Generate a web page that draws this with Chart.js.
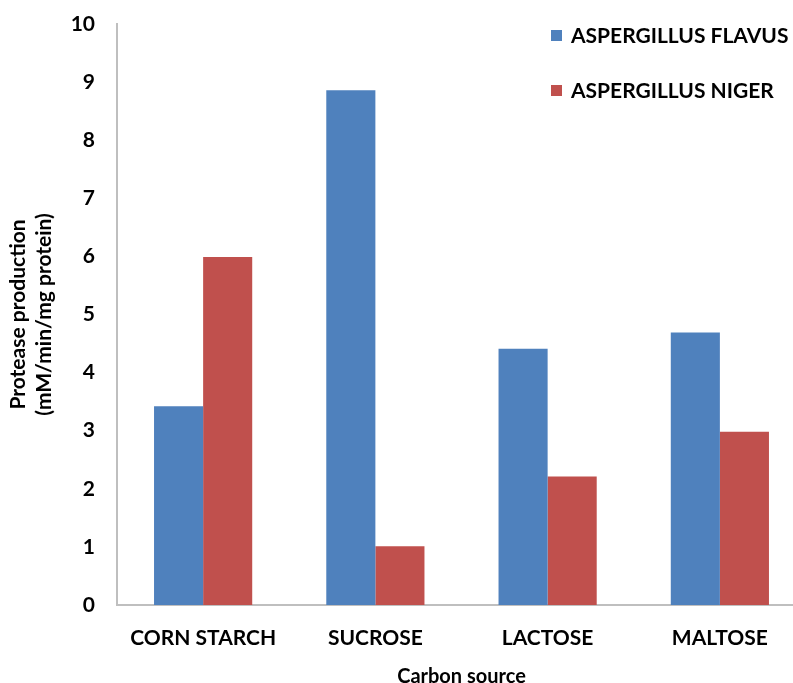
<!DOCTYPE html>
<html>
<head>
<meta charset="utf-8">
<script src="https://cdn.jsdelivr.net/npm/chart.js@4/dist/chart.umd.min.js"></script>
<style>
  html, body { margin: 0; padding: 0; background: #fff; overflow: hidden; }
  #wrap { width: 806px; height: 683px; }
</style>
</head>
<body>
<div id="wrap"><canvas id="c" width="806" height="683"></canvas></div>
<script>
// Carbon sources tested and protease production per strain
const carbonSources = ['CORN STARCH', 'SUCROSE', 'LACTOSE', 'MALTOSE'];
const flavusValues = [3.42, 8.86, 4.41, 4.69];
const nigerValues = [5.99, 1.01, 2.21, 2.98];
const seriesNames = ['ASPERGILLUS FLAVUS', 'ASPERGILLUS NIGER'];
const yTicks = [0, 1, 2, 3, 4, 5, 6, 7, 8, 9, 10];

const FONT = 'Lato, "Open Sans", sans-serif';
const BLUE = '#4F81BD';
const RED = '#C0504D';

// Vertical legend in the upper-right corner
const sideLegend = {
  id: 'sideLegend',
  afterDraw(chart) {
    const ctx = chart.ctx;
    ctx.save();
    ctx.font = 'bold 21px ' + FONT;
    ctx.textBaseline = 'middle';
    ctx.textAlign = 'left';
    chart.data.datasets.forEach((ds, i) => {
      const y = 35 + i * 55;
      ctx.fillStyle = ds.backgroundColor;
      ctx.fillRect(551, y - 5, 11, 11);
      ctx.fillStyle = '#000';
      ctx.fillText(ds.label, 571, y + 1);
    });
    ctx.restore();
  }
};

new Chart(document.getElementById('c'), {
  type: 'bar',
  data: {
    labels: carbonSources,
    datasets: [
      { label: seriesNames[0], data: flavusValues, backgroundColor: BLUE },
      { label: seriesNames[1], data: nigerValues, backgroundColor: RED }
    ]
  },
  options: {
    responsive: false,
    animation: false,
    devicePixelRatio: 1,
    layout: { padding: { top: 24, right: 0, left: 0, bottom: 0 } },
    datasets: { bar: { categoryPercentage: 0.57, barPercentage: 1.0 } },
    plugins: {
      legend: { display: false },
      tooltip: { enabled: false }
    },
    scales: {
      x: {
        grid: { display: false, drawTicks: false },
        border: { display: true, color: '#bfbfbf', width: 2 },
        ticks: { color: '#000', font: { family: FONT, size: 21, weight: 'bold' }, padding: 21, maxRotation: 0 },
        title: {
          display: true,
          text: 'Carbon source',
          color: '#000',
          font: { family: FONT, size: 20, weight: 'bold' },
          padding: { top: 4, bottom: -6 }
        },
        afterFit(scale) { scale.height = 78; }
      },
      y: {
        min: 0,
        max: 10,
        afterBuildTicks(scale) { scale.ticks = yTicks.map(v => ({ value: v })); },
        grid: { display: false, drawTicks: false },
        border: { display: true, color: '#bfbfbf', width: 2 },
        ticks: { color: '#000', font: { family: FONT, size: 21, weight: 'bold' }, padding: 22 },
        title: {
          display: true,
          text: ['Protease production', '(mM/min/mg protein)'],
          color: '#000',
          font: { family: FONT, size: 21, weight: 'bold', lineHeight: 1.25 },
          padding: { top: 5, bottom: 0 }
        },
        afterFit(scale) {
          scale.width = 117;
          scale.paddingTop = 0;
          scale.paddingBottom = 0;
        }
      }
    }
  },
  plugins: [sideLegend]
});
</script>
</body>
</html>
